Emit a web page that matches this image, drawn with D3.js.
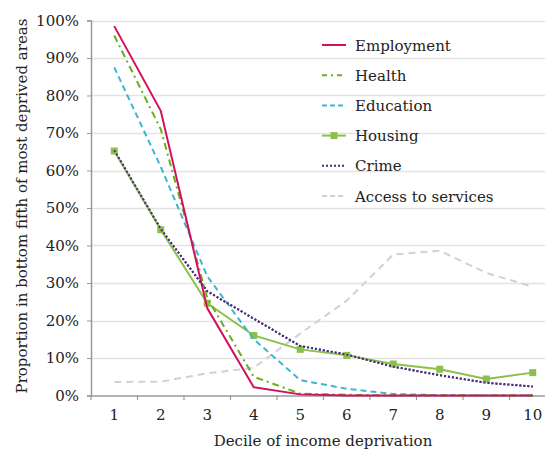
<!DOCTYPE html>
<html><head><meta charset="utf-8">
<script src="https://cdn.jsdelivr.net/npm/d3@7"></script>
<style>body{margin:0;background:#fff}svg{display:block}text{font-family:"DejaVu Serif";fill:#222}</style>
</head><body><div id="c"></div>
<script>
const deciles = [1,2,3,4,5,6,7,8,9,10];
const employment = [98.5,75.9,23.3,2.2,0.3,0,0,0,0,0];
const health = [96,71,26,5,0.5,0.2,0,0,0,0];
const education = [87.5,61,31.8,15,4.1,1.8,0.4,0.1,0,0];
const housing = [65.2,44.2,24.6,16.0,12.3,10.7,8.4,7.0,4.4,6.1];
const crime = [65.4,44.4,27.8,20.5,13.2,10.9,7.7,5.4,3.4,2.4];
const access = [3.6,3.7,5.9,7.4,16.5,25.3,37.6,38.6,32.7,29.0];
const yTicks = [0,10,20,30,40,50,60,70,80,90,100];
const seriesNames = ["Employment","Health","Education","Housing","Crime","Access to services"];

const FONT = "DejaVu Serif";
const series = [
  {name:seriesNames[0], values:employment, color:"#d2105e", dash:null, w:2},
  {name:seriesNames[1], values:health, color:"#6aae1c", dash:"7,4,2,4", w:2},
  {name:seriesNames[2], values:education, color:"#3fb5d3", dash:"6,4", w:2},
  {name:seriesNames[3], values:housing, color:"#8cc04a", dash:null, w:2, marker:true},
  {name:seriesNames[4], values:crime, color:"#4a2f80", dash:"2,2", w:2},
  {name:seriesNames[5], values:access, color:"#d3cede", dash:"7,5", w:2}
];

const W=545,H=451;
const svg=d3.select("#c").append("svg").attr("width",W).attr("height",H);
const x=d3.scaleBand().domain(deciles).range([91,556]);
const y=d3.scaleLinear().domain([0,100]).range([395.5,20.5]);

// gridlines
svg.append("g").selectAll("line").data(yTicks.filter(d=>d>0)).join("line")
  .attr("x1",91).attr("x2",556).attr("y1",d=>Math.round(y(d))+0.5).attr("y2",d=>Math.round(y(d))+0.5)
  .attr("stroke","#e3e3e3").attr("stroke-width",1.5);

// y axis
const yAxis=svg.append("g").attr("transform","translate(91,0)")
  .call(d3.axisLeft(y).tickValues(yTicks).tickFormat(d=>d+"%").tickSize(4).tickPadding(8));
yAxis.select(".domain").attr("stroke","#9a9a9a").attr("stroke-width",1.5);
yAxis.selectAll(".tick line").attr("stroke","#9a9a9a");
yAxis.selectAll("text").style("font-size","15px").style("font-family",FONT).attr("fill","#222");

// x axis
const xAxis=svg.append("g").attr("transform","translate(0,395.5)")
  .call(d3.axisBottom(x).tickSize(0).tickPadding(14));
xAxis.select(".domain").attr("stroke","#9a9a9a").attr("stroke-width",1.5);
xAxis.selectAll("text").style("font-size","15px").style("font-family",FONT).attr("fill","#222");
// boundary ticks
svg.append("g").selectAll("line").data(deciles).join("line")
  .attr("x1",d=>x(d)+x.bandwidth()).attr("x2",d=>x(d)+x.bandwidth())
  .attr("y1",395.5).attr("y2",400).attr("stroke","#9a9a9a").attr("stroke-width",1.2);
svg.append("line").attr("x1",91).attr("x2",91).attr("y1",395).attr("y2",400).attr("stroke","#9a9a9a").attr("stroke-width",1.2);

// axis titles
svg.append("text").attr("x",323).attr("y",446).attr("text-anchor","middle").style("font-size","15px").style("font-family",FONT).text("Decile of income deprivation");
svg.append("text").attr("transform","translate(27,206) rotate(-90)").attr("text-anchor","middle").style("font-size","15px").style("font-family",FONT).text("Proportion in bottom fifth of most deprived areas");

// lines
const line=d3.line().x((d,i)=>x(deciles[i])+x.bandwidth()/2).y(d=>y(d));
const drawOrder=[5,4,3,2,1,0];
drawOrder.forEach(k=>{
  const s=series[k];
  svg.append("path").attr("d",line(s.values)).attr("fill","none").attr("stroke",s.color)
    .attr("stroke-width",s.w).attr("stroke-dasharray",s.dash).attr("stroke-linejoin","round");
  if(s.marker){
    svg.append("g").selectAll("rect").data(s.values).join("rect")
      .attr("x",(d,i)=>x(deciles[i])+x.bandwidth()/2-3.5).attr("y",d=>y(d)-3.5)
      .attr("width",7).attr("height",7).attr("fill",s.color);
  }
});
{
  const s=series[4];
  svg.append("path").attr("d",line(s.values)).attr("fill","none").attr("stroke",s.color)
    .attr("stroke-width",s.w).attr("stroke-dasharray",s.dash);
}

// legend
const lg=svg.append("g");
series.forEach((s,i)=>{
  const yy=45+i*30.2;
  lg.append("line").attr("x1",322).attr("x2",346).attr("y1",yy).attr("y2",yy)
    .attr("stroke",s.color).attr("stroke-width",2).attr("stroke-dasharray",s.dash==="7,4,2,4"?"5,4,2,4":(s.dash==="2,2"?"2,2":(s.dash?"5,3":null)));
  if(s.marker) lg.append("rect").attr("x",330.5).attr("y",yy-3.5).attr("width",7).attr("height",7).attr("fill",s.color);
  lg.append("text").attr("x",355).attr("y",yy+5.5).style("font-size","15px").style("font-family",FONT).text(s.name);
});
</script></body></html>
